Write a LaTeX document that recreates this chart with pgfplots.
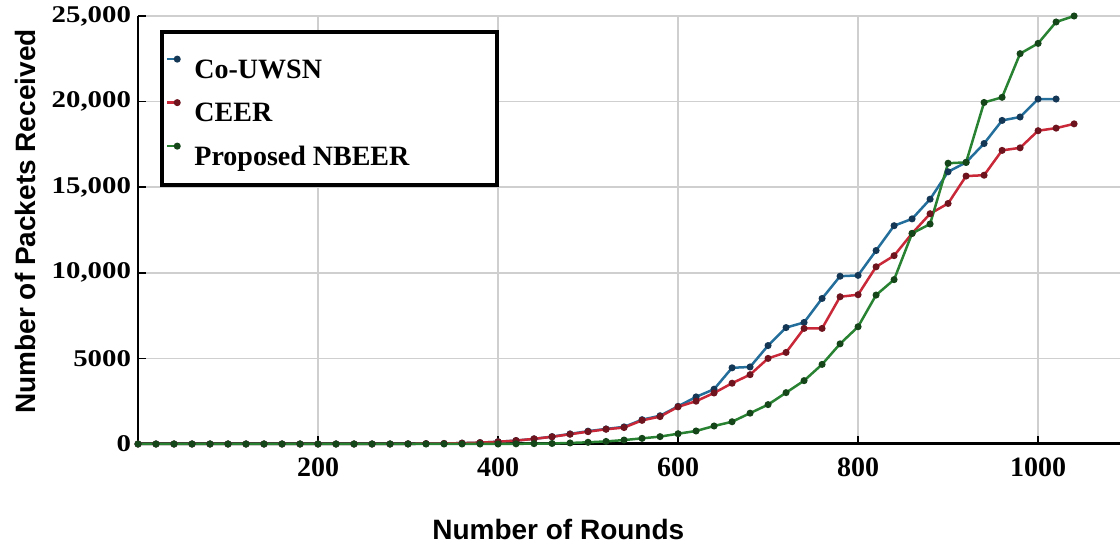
\documentclass[border=0pt]{standalone}
\usepackage{fontspec}
\setmainfont{Liberation Serif}
\newfontfamily\widefont[FakeStretch=1.2]{Liberation Serif}
\newfontfamily\labsans{Liberation Sans}
\usepackage{pgfplots}
\pgfplotsset{compat=1.18}
\usepackage{pgfplotstable}

\definecolor{cblue}{RGB}{35,110,155}
\definecolor{cbluem}{RGB}{20,55,85}
\definecolor{cred}{RGB}{200,40,55}
\definecolor{credm}{RGB}{110,20,30}
\definecolor{cgreen}{RGB}{40,130,50}
\definecolor{cgreenm}{RGB}{20,70,25}

\pgfplotstableread{
x y
0 0
20 0
40 0
60 0
80 0
100 0
120 0
140 0
160 0
180 0
200 0
220 0
240 0
260 0
280 0
300 10
320 20
340 30
360 50
380 80
400 130
420 200
440 300
460 430
480 590
500 750
520 880
540 1000
560 1420
580 1650
600 2200
620 2750
640 3200
660 4450
680 4500
700 5750
720 6800
740 7100
760 8500
780 9800
800 9850
820 11300
840 12750
860 13150
880 14300
900 15900
920 16450
940 17550
960 18900
980 19100
1000 20150
1020 20150
}\couwsn

\pgfplotstableread{
x y
0 0
20 0
40 0
60 0
80 0
100 0
120 0
140 0
160 0
180 0
200 0
220 0
240 0
260 0
280 0
300 10
320 20
340 30
360 50
380 80
400 130
420 200
440 300
460 420
480 570
500 720
520 860
540 960
560 1380
580 1600
600 2170
620 2500
640 2980
660 3550
680 4050
700 5000
720 5350
740 6750
760 6750
780 8600
800 8720
820 10350
840 11000
860 12300
880 13450
900 14050
920 15650
940 15700
960 17150
980 17300
1000 18300
1020 18450
1040 18700
}\ceer

\pgfplotstableread{
x y
0 0
20 0
40 0
60 0
80 0
100 0
120 0
140 0
160 0
180 0
200 0
220 0
240 0
260 0
280 0
300 0
320 0
340 0
360 0
380 0
400 0
420 10
440 20
460 30
480 60
500 100
520 150
540 230
560 330
580 430
600 600
620 760
640 1050
660 1300
680 1800
700 2300
720 3000
740 3700
760 4650
780 5850
800 6850
820 8700
840 9600
860 12300
880 12850
900 16400
920 16450
940 19950
960 20250
980 22800
1000 23400
1020 24650
1040 25000
}\nbeer

\begin{document}
\begin{tikzpicture}
\begin{axis}[
  name=ax,
  scale only axis,
  width=491pt, height=214pt,
  xmin=0, xmax=1091, ymin=0, ymax=25000,
  enlargelimits=false,
  clip=false,
  scaled x ticks=false,
  scaled y ticks=false,
  axis x line*=bottom,
  axis y line*=left,
  x axis line style={-, line width=1.5pt, black},
  y axis line style={-, line width=1pt, black},
  xtick={200,400,600,800,1000},
  xticklabels={200,400,600,800,1000},
  ytick={0,5000,10000,15000,20000,25000},
  yticklabels={{0\hspace{8pt}},5000,{10,000},{15,000},{20,000},{25,000}},
  tick align=inside,
  major tick length=4pt,
  tick style={black, line width=0.8pt},
  xticklabel style={font=\bfseries\fontsize{14}{14}\selectfont, yshift=-3.5pt},
  yticklabel style={font=\widefont\bfseries\fontsize{12}{12}\selectfont},
  grid=major,
  major grid style={color=gray!38, line width=0.8pt},
  xlabel={Number of Rounds},
  ylabel={Number of Packets Received},
  xlabel style={font=\labsans\bfseries\fontsize{14}{14}\selectfont, at={(axis description cs:0.428,-0.224)}, anchor=base},
  ylabel style={font=\labsans\bfseries\fontsize{14}{14}\selectfont, at={(axis description cs:-0.115,0.52)}, anchor=center, rotate=0},
  legend style={
    at={(axis description cs:0.0224,0.967)}, anchor=north west,
    draw=black, line width=2pt, fill=white,
    inner xsep=2pt, inner ysep=7pt,
    row sep=2.75pt,
    font=\bfseries\fontsize{14}{14}\selectfont,
    nodes={text height=15pt, text depth=2pt, inner ysep=1pt},
  },
  legend cell align=left,
  legend image code/.code={\draw[#1,mark repeat=2,mark phase=2] plot coordinates {(0pt,3pt) (5pt,3pt)};},
]
\addplot[color=cblue, line width=1.25pt, mark=*, mark size=1.1pt, mark options={fill=cbluem, draw=cbluem}] table[x=x,y=y] {\couwsn};
\addlegendentry{\makebox[153pt][l]{\hspace{5.5pt}Co-UWSN}}
\addplot[color=cred, line width=1.25pt, mark=*, mark size=1.1pt, mark options={fill=credm, draw=credm}] table[x=x,y=y] {\ceer};
\addlegendentry{\makebox[153pt][l]{\hspace{5.5pt}CEER}}
\addplot[color=cgreen, line width=1.25pt, mark=*, mark size=1.1pt, mark options={fill=cgreenm, draw=cgreenm}] table[x=x,y=y] {\nbeer};
\addlegendentry{\makebox[153pt][l]{\hspace{5.5pt}Proposed NBEER}}
\end{axis}
\pgfresetboundingbox
\path[use as bounding box] ([xshift=-69pt,yshift=-53pt]ax.south west) rectangle ([yshift=8pt]ax.north east);
\end{tikzpicture}
\end{document}
